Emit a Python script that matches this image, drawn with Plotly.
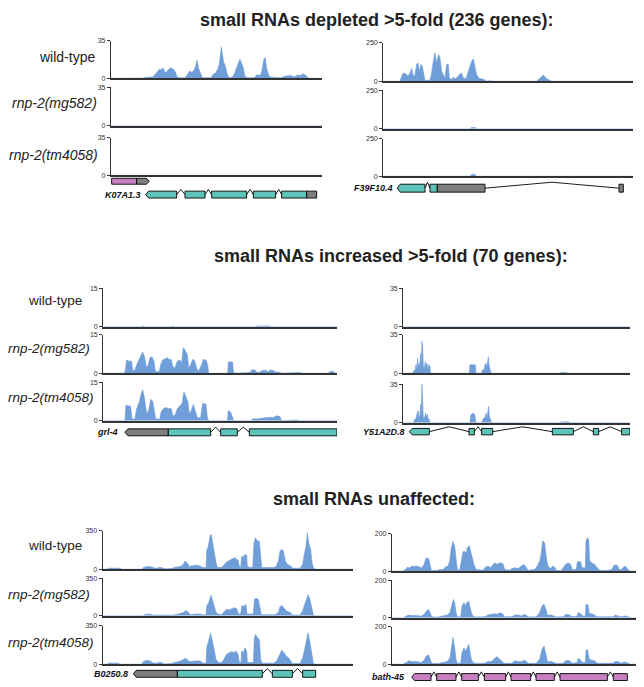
import plotly.graph_objects as go

# ============================ DATA ============================
SECTION_TITLES = [
    "small RNAs depleted >5-fold (236 genes):",
    "small RNAs increased >5-fold (70 genes):",
    "small RNAs unaffected:",
]
ROW_LABELS = ["wild-type", "<i>rnp-2(mg582)</i>", "<i>rnp-2(tm4058)</i>"]
GENE_NAMES = ["K07A1.3", "F39F10.4", "grl-4", "Y51A2D.8", "B0250.8", "bath-45"]
Y_MAX = [35, 250, 15, 35, 350, 200]          # panels A..F
X_SPAN = [(9, 642), (10, 759), (10, 711), (10, 690), (8, 759), (12, 768)]

# coverage tracks: (position, reads) vertices
A_WT = [(9,0),(85,0),(88,0.6),(100,0.6),(105,0.2),(115,1),(135,1.2),(140,3),(148,6),(155,8.6),(160,7.7),(165,9.8),(170,6),(175,5.5),(180,7.7),(188,9.8),(195,8.6),(202,6),(207,1.5),(215,0.5),(232,0.5),(238,3.7),(245,6.8),(252,5.5),(258,7.7),(262,10.7),(267,16.9),(272,9.2),(278,3.7),(283,0.6),(300,0.6),(310,0.6),(315,3.7),(322,4.6),(328,7.7),(333,12),(337,21),(340,29),(343,23),(347,15),(352,12),(357,4.6),(362,1),(372,0.6),(380,4.6),(386,10.7),(392,15),(396,17.8),(400,13.8),(405,10.7),(410,3),(415,0.6),(440,0.6),(445,3),(458,3),(462,7.7),(468,18.4),(472,19),(476,9.2),(482,3),(488,1),(500,1),(520,0.6),(530,2),(545,2.5),(560,1.5),(568,3),(578,2.5),(585,4.3),(592,3),(598,1),(605,0),(642,0)]
A_MG = [(9,0),(330,0),(335,0.2),(345,0.2),(350,0),(642,0)]
A_TM = [(9,0),(330,0),(335,0.5),(345,0.6),(350,0),(642,0)]

B_WT = [(10,0),(60,0),(65,33),(70,54),(78,48),(84,33),(90,54),(95,83),(100,33),(105,43),(110,109),(114,120),(118,65),(123,109),(127,98),(131,43),(135,6),(150,6),(155,54),(160,130),(165,185),(170,120),(176,174),(180,152),(185,65),(190,43),(195,22),(200,109),(205,109),(208,22),(215,11),(220,26),(226,17),(232,26),(238,43),(245,54),(250,22),(258,17),(264,54),(270,87),(275,130),(280,145),(285,98),(290,43),(298,17),(305,17),(312,11),(320,0),(330,4),(340,0),(470,0),(480,17),(490,40),(500,17),(510,4),(515,0),(759,0)]
B_MG = [(10,0),(155,0),(160,4),(170,4),(175,0),(270,0),(275,8),(285,8),(290,0),(759,0)]
B_TM = [(10,0),(100,0),(105,3),(110,0),(155,0),(160,4),(175,4),(180,0),(270,0),(275,12),(283,14),(290,0),(759,0)]

C_WT = [(10,0),(124,0),(129,0.3),(134,0),(214,0),(219,0.3),(224,0),(466,0),(471,0.3),(510,0.3),(515,0),(711,0)]
C_MG = [(10,0),(70,0),(75,0.3),(80,5.1),(88,4.7),(95,4.7),(98,1.1),(105,1.3),(110,3.3),(118,5.3),(124,7.3),(128,8.3),(133,6.7),(140,2),(145,3.3),(150,6),(156,6.4),(162,4.7),(166,0.7),(178,0.7),(182,3.3),(188,5.1),(195,5.6),(202,6),(208,5.3),(214,5.3),(218,2.7),(225,2),(232,4.7),(240,5.1),(245,4),(250,10),(256,8.7),(262,7.3),(266,2),(272,3.3),(278,5.3),(283,5.1),(290,2),(295,0.7),(305,3.3),(310,5.3),(318,5.1),(323,3.3),(326,0),(383,0),(385,4.4),(398,4.4),(400,0.7),(405,0),(450,0.3),(455,1.3),(465,1.3),(470,0.4),(480,0.4),(487,1.1),(500,1.1),(505,0.4),(510,1.3),(520,1.1),(525,0.5),(540,0.4),(545,0),(580,0.3),(600,0.3),(605,0),(685,0),(690,0.7),(700,0.7),(705,0),(711,0)]
C_TM = [(10,0),(75,0),(78,6),(92,5.6),(96,0.7),(105,0.7),(110,4.7),(118,7.3),(124,10.7),(128,12),(133,9.3),(140,2.7),(146,4),(152,8.3),(158,7.7),(163,4),(167,0.7),(180,0.7),(183,3.3),(190,4.7),(198,5.1),(206,4.7),(214,4.7),(218,2),(225,2),(232,4.7),(240,6),(246,6.7),(252,11.3),(258,9.3),(264,7.3),(268,2.7),(274,4),(280,6.4),(286,4),(292,1.1),(302,1.3),(308,6.7),(318,6.4),(322,1.3),(326,0),(382,0),(385,4),(392,3.3),(398,1.3),(400,0),(455,0),(458,0.8),(470,0.7),(485,1.1),(500,1.3),(510,1.3),(520,1.3),(530,1.9),(540,1.6),(545,0),(590,0.3),(600,0),(711,0)]

D_WT = [(10,0),(55,0),(60,0.3),(85,0.3),(90,0),(215,0),(220,0.3),(265,0.3),(270,0),(690,0)]
D_MG = [(10,0),(38,0),(42,2.4),(46,3),(48,7.6),(50,3),(53,13.7),(55,4.6),(57,9),(59,4.6),(62,18),(64,9),(66,29),(68,24),(70,6),(73,4.6),(76,10.6),(78,6),(81,9),(84,3.6),(87,7.6),(90,6),(92,0),(208,0),(210,7.6),(226,7.6),(228,0),(245,0),(247,3),(252,3),(255,7.6),(258,9),(260,4.6),(262,9),(265,15),(267,7.6),(270,3),(273,0),(480,0),(482,0.6),(500,0.6),(502,0),(690,0)]
D_TM = [(10,0),(40,0),(44,3),(48,3.6),(52,9),(55,10.6),(57,3),(60,7.6),(62,16.7),(64,6),(66,35),(68,24),(70,4.6),(74,4.6),(77,9),(79,4.6),(82,7.6),(85,3),(88,3),(90,0),(210,0),(212,6.7),(218,8.5),(224,7.6),(228,0),(246,0),(249,3.6),(255,4.6),(258,8.5),(261,4.6),(263,7.6),(266,15),(268,6),(272,1.5),(275,0),(480,0),(482,0.6),(505,0.9),(510,0),(690,0)]

E_WT = [(8,0),(20,0),(25,9),(60,9),(65,0),(125,0),(130,15),(140,24),(150,24),(160,12),(170,6),(175,15),(185,15),(192,3),(215,6),(225,18),(240,24),(248,36),(255,75),(262,54),(268,24),(275,30),(290,36),(300,30),(308,15),(318,15),(320,165),(325,210),(330,300),(334,315),(338,225),(343,150),(348,60),(352,15),(365,15),(370,36),(378,60),(385,75),(392,84),(398,96),(404,105),(410,90),(414,84),(418,24),(422,15),(425,120),(430,105),(435,135),(440,126),(442,30),(448,15),(458,15),(462,240),(466,285),(472,255),(478,255),(482,60),(485,15),(520,15),(528,24),(535,75),(540,165),(546,180),(550,165),(556,75),(562,45),(572,30),(578,9),(600,9),(608,45),(612,120),(618,210),(622,330),(626,240),(632,180),(636,60),(640,15),(645,0),(759,0)]
E_MG = [(8,0),(130,0),(135,12),(148,15),(160,6),(220,6),(235,15),(250,30),(258,48),(265,30),(272,9),(285,15),(300,15),(310,6),(318,9),(320,90),(326,120),(333,190),(338,135),(344,90),(348,30),(355,15),(365,9),(372,36),(380,60),(388,54),(395,66),(402,75),(410,66),(415,15),(422,15),(425,90),(432,90),(438,105),(441,15),(460,15),(463,150),(468,165),(475,150),(480,60),(484,9),(525,9),(535,30),(540,84),(545,96),(552,75),(558,45),(570,30),(578,6),(600,6),(608,45),(614,105),(620,165),(624,195),(630,150),(636,45),(640,6),(645,0),(759,0)]
E_TM = [(8,0),(20,0),(25,9),(55,9),(60,0),(125,0),(130,24),(140,36),(150,30),(158,12),(170,9),(178,18),(185,15),(192,3),(215,6),(225,18),(238,24),(250,42),(258,54),(265,30),(272,24),(285,30),(300,30),(310,9),(318,9),(320,150),(326,210),(332,280),(336,225),(342,135),(348,45),(355,15),(365,15),(372,45),(380,90),(388,105),(395,114),(402,105),(408,120),(414,90),(418,15),(423,15),(425,120),(430,105),(435,150),(440,120),(442,15),(460,15),(463,240),(467,270),(472,240),(478,225),(482,45),(486,9),(520,9),(530,30),(538,90),(545,126),(552,105),(558,75),(565,60),(572,30),(578,6),(600,6),(608,60),(614,135),(620,225),(624,285),(630,195),(636,60),(640,9),(645,0),(759,0)]

F_WT = [(12,0),(45,0),(52,9),(58,21),(66,18),(72,27),(80,25),(88,27),(95,21),(102,18),(108,35),(114,70),(122,67),(126,27),(130,4),(148,4),(155,9),(165,9),(172,21),(180,27),(185,53),(190,124),(195,158),(200,133),(204,62),(208,9),(215,5),(220,62),(225,103),(230,106),(234,97),(238,124),(244,135),(248,106),(252,71),(258,35),(264,9),(285,5),(292,21),(300,27),(308,18),(315,35),(322,44),(328,35),(332,44),(338,44),(345,39),(350,9),(365,5),(372,14),(380,18),(390,14),(400,27),(408,35),(414,21),(420,5),(440,9),(448,27),(455,53),(460,97),(464,162),(470,150),(475,71),(480,27),(488,14),(494,27),(500,21),(505,4),(520,4),(526,18),(532,35),(540,44),(548,35),(553,9),(565,9),(568,50),(578,50),(582,18),(592,18),(594,159),(598,178),(602,168),(605,53),(612,44),(620,35),(628,18),(635,5),(660,4),(672,9),(678,32),(688,32),(693,9),(700,9),(706,21),(712,27),(718,14),(722,4),(728,0),(768,0)]
F_MG = [(12,0),(45,0),(55,9),(62,14),(70,11),(85,12),(100,9),(108,18),(115,35),(122,44),(128,18),(132,4),(150,4),(165,9),(178,14),(186,27),(192,62),(196,97),(200,80),(204,27),(208,5),(218,5),(222,62),(228,80),(232,62),(236,80),(242,88),(246,53),(250,27),(255,9),(262,4),(290,5),(300,14),(310,18),(320,21),(328,18),(335,27),(345,18),(350,5),(372,5),(380,14),(392,14),(400,9),(410,18),(418,9),(422,4),(445,5),(455,27),(462,62),(468,71),(474,44),(478,14),(490,14),(496,9),(505,4),(525,5),(535,18),(545,14),(552,5),(568,9),(570,27),(578,21),(584,9),(592,9),(594,71),(600,67),(604,21),(612,21),(620,14),(628,5),(675,5),(682,14),(690,9),(700,5),(708,9),(715,9),(722,4),(728,0),(768,0)]
F_TM = [(12,0),(45,0),(55,9),(62,18),(70,14),(85,14),(100,9),(108,21),(115,44),(122,50),(128,18),(132,4),(150,4),(165,9),(178,14),(186,35),(190,80),(195,142),(200,88),(204,27),(208,5),(218,5),(222,62),(228,88),(232,71),(236,80),(242,106),(246,62),(250,27),(255,9),(262,4),(290,5),(300,14),(310,14),(320,27),(326,39),(332,32),(340,21),(348,5),(372,5),(380,18),(392,14),(400,14),(410,21),(418,9),(422,4),(445,5),(455,27),(462,80),(468,97),(474,53),(478,14),(490,14),(496,9),(505,4),(525,5),(535,21),(545,18),(552,5),(568,9),(570,32),(578,21),(584,9),(592,9),(594,71),(598,80),(604,27),(612,21),(620,18),(628,5),(675,5),(682,14),(690,14),(700,5),(708,12),(715,9),(722,4),(728,0),(768,0)]

TRACKS = [[A_WT, A_MG, A_TM], [B_WT, B_MG, B_TM], [C_WT, C_MG, C_TM],
          [D_WT, D_MG, D_TM], [E_WT, E_MG, E_TM], [F_WT, F_MG, F_TM]]

# gene models: (start, end, feature kind, arrow tip side)
K07A1_2_PINK = [(11, 86, "pink", None), (86, 124, "gray", "right")]
K07A1_3 = [(113, 206, "teal", "left"), (231, 291, "teal", None), (311, 416, "teal", None),
           (436, 503, "teal", None), (521, 596, "teal", None), (596, 626, "gray", None)]
F39F10_4 = [(52, 135, "teal", "left"), (150, 172, "teal", None), (172, 315, "gray", None), (717, 730, "gray", None)]
GRL_4 = [(75, 205, "gray", "left"), (205, 332, "teal", None), (362, 412, "teal", None), (448, 711, "teal", None)]
Y51A2D_8 = [(28, 88, "teal", "left"), (207, 223, "teal", None), (245, 278, "teal", None),
            (457, 520, "teal", None), (580, 596, "teal", None), (665, 690, "teal", None)]
B0250_8 = [(100, 232, "gray", "left"), (232, 487, "teal", None), (517, 577, "teal", None), (608, 647, "teal", None)]
BATH_45 = [(71, 129, "pink", "left"), (146, 204, "pink", None), (221, 271, "pink", None), (289, 353, "pink", None),
           (369, 428, "pink", None), (444, 499, "pink", None), (516, 658, "pink", None), (676, 718, "pink", None)]

# ============================ STYLE / LAYOUT ============================
W, H = 644, 687           # target picture size
OFF = 8                   # page body margin offset
FW, FH = W - OFF, H - OFF # figure size so the page fits the window
BLUE = "#6f9ed9"
AXIS = "#333333"
GENE_COLORS = {"teal": "#5ec4b9", "gray": "#7e7e7e", "pink": "#c680c1"}
FONT = "Liberation Sans, Arial, sans-serif"
TIP = 9


def px_x(x):
    return min(1.0, max(0.0, (x - OFF) / FW))


def px_y(y):
    return min(1.0, max(0.0, 1 - (y - OFF) / FH))


PANEL_X = [(111, 322), (383.3, 633), (103.3, 337), (403.3, 630), (102.7, 353), (392, 644)]
PANEL_ROWS = [
    [(37, 75), (84, 123), (135, 173)],
    [(39, 78), (87, 126), (136, 174)],
    [(287, 326), (334, 373), (382, 421)],
    [(287, 326), (334, 373), (384, 423)],
    [(532, 571), (580, 618), (628, 667)],
    [(535, 573), (582, 620), (629, 667)],
]
PANEL_GENES = [
    [(K07A1_2_PINK, 179, 6, None), (K07A1_3, 192.5, 7, (143, 192.5, GENE_NAMES[0]))],
    [(F39F10_4, 186, 8, (395, 186, GENE_NAMES[1]))],
    [(GRL_4, 432.7, 7, (120, 432.5, GENE_NAMES[2]))],
    [(Y51A2D_8, 432, 6.5, (407, 432, GENE_NAMES[3]))],
    [(B0250_8, 676.7, 7, (130, 677, GENE_NAMES[4]))],
    [(BATH_45, 680, 7, (407, 680, GENE_NAMES[5]))],
]
TITLE_POS = [(377, 16), (391, 255), (373.5, 500)]
LABEL_POS = [
    [(97, 53), (99, 100), (100, 152)],
    [(84, 300), (92, 348), (96, 398)],
    [(84, 547), (92, 597), (96, 645)],
]
LABEL_SIZE = [14, 13.5, 13.5]

fig = go.Figure()
axes_layout = {}
counter = [0]


def add_axes(x0, x1, ytop, ybot, xr, yr, visible, yticks=None):
    counter[0] += 1
    n = counter[0]
    sx = "" if n == 1 else str(n)
    xa = dict(domain=[px_x(x0), px_x(x1)], range=list(xr), anchor="y" + sx, showgrid=False,
              zeroline=False, showticklabels=False, ticks="", fixedrange=True)
    ya = dict(domain=[px_y(ybot), px_y(ytop)], range=list(yr), anchor="x" + sx,
              showgrid=False, zeroline=False, fixedrange=True)
    if visible:
        xa.update(showline=True, linecolor=AXIS, linewidth=1.6)
        ya.update(showline=True, linecolor=AXIS, linewidth=1.3, ticks="outside", ticklen=3,
                  tickwidth=1, tickcolor=AXIS, tickvals=yticks, ticktext=[str(t) for t in yticks],
                  tickfont=dict(family=FONT, size=7, color="#333"))
    else:
        xa.update(visible=False)
        ya.update(visible=False)
    axes_layout["xaxis" + sx] = xa
    axes_layout["yaxis" + sx] = ya
    return "x" + sx, "y" + sx


for p in range(6):
    x0, x1 = PANEL_X[p]
    for r in range(3):
        top, base = PANEL_ROWS[p][r]
        xr, yr = add_axes(x0, x1, top, base, X_SPAN[p], (0, Y_MAX[p]), True, [0, Y_MAX[p]])
        pts = TRACKS[p][r]
        fig.add_trace(go.Scatter(x=[a for a, b in pts], y=[b for a, b in pts], mode="lines",
                                 fill="tozeroy", fillcolor=BLUE, line=dict(color=BLUE, width=0.6),
                                 xaxis=xr, yaxis=yr, hoverinfo="skip", showlegend=False))
    for gene, cy, hh, label in PANEL_GENES[p]:
        xr, yr = add_axes(x0, x1, cy - hh, cy + hh, X_SPAN[p], (-1, 1), False)
        for (s1, e1, k1, t1), (s2, e2, k2, t2) in zip(gene[:-1], gene[1:]):
            if s2 - e1 > 1:
                fig.add_trace(go.Scatter(x=[e1, (e1 + s2) / 2, s2], y=[0, 0.75, 0], mode="lines",
                                         line=dict(color="black", width=0.9), xaxis=xr, yaxis=yr,
                                         hoverinfo="skip", showlegend=False))
        for s, e, kind, tip in gene:
            if tip == "left":
                gx = [s, s + TIP, e, e, s + TIP, s]
                gy = [0, 0.5, 0.5, -0.5, -0.5, 0]
            elif tip == "right":
                gx = [s, e - TIP, e, e - TIP, s, s]
                gy = [0.5, 0.5, 0, -0.5, -0.5, 0.5]
            else:
                gx = [s, e, e, s, s]
                gy = [0.5, 0.5, -0.5, -0.5, 0.5]
            fig.add_trace(go.Scatter(x=gx, y=gy, mode="lines", fill="toself",
                                     fillcolor=GENE_COLORS[kind], line=dict(color="black", width=0.9),
                                     xaxis=xr, yaxis=yr, hoverinfo="skip", showlegend=False))
        if label:
            lx, ly, txt = label
            fig.add_annotation(x=px_x(lx), y=px_y(ly), xref="paper", yref="paper", xanchor="right",
                               yanchor="middle", showarrow=False, text=f"<b><i>{txt}</i></b>",
                               font=dict(family=FONT, size=9, color="#111"))

for (tx, ty), t in zip(TITLE_POS, SECTION_TITLES):
    fig.add_annotation(x=px_x(tx), y=px_y(ty), xref="paper", yref="paper", xanchor="center",
                       yanchor="middle", showarrow=False, text=f"<b>{t}</b>",
                       font=dict(family=FONT, size=18, color="#222"))

for sec in range(3):
    for r in range(3):
        lx, ly = LABEL_POS[sec][r]
        fig.add_annotation(x=px_x(lx), y=px_y(ly), xref="paper", yref="paper", xanchor="right",
                           yanchor="middle", showarrow=False, text=ROW_LABELS[r],
                           font=dict(family=FONT, size=LABEL_SIZE[sec], color="#222"))

fig.update_layout(width=FW, height=FH, margin=dict(l=0, r=0, t=0, b=0, pad=0),
                  paper_bgcolor="white", plot_bgcolor="rgba(0,0,0,0)", showlegend=False,
                  **axes_layout)

fig.write_html("out.html")
